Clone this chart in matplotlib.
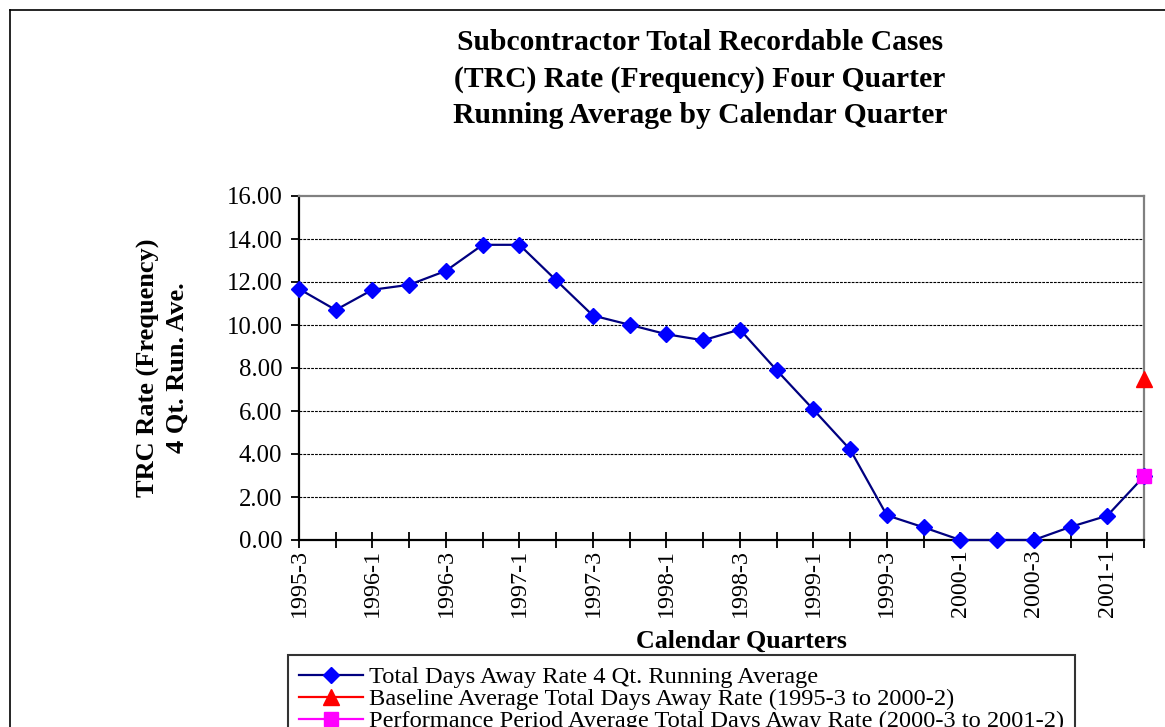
import matplotlib
matplotlib.use("Agg")
import matplotlib.pyplot as plt
from matplotlib.lines import Line2D

plt.rcParams['font.family'] = ['Liberation Serif', 'DejaVu Serif']

quarters = ["1995-3", "1995-4", "1996-1", "1996-2", "1996-3", "1996-4",
            "1997-1", "1997-2", "1997-3", "1997-4", "1998-1", "1998-2",
            "1998-3", "1998-4", "1999-1", "1999-2", "1999-3", "1999-4",
            "2000-1", "2000-2", "2000-3", "2000-4", "2001-1", "2001-2"]
running_avg = [11.68, 10.70, 11.64, 11.87, 12.52, 13.73, 13.73, 12.08,
               10.44, 10.01, 9.57, 9.29, 9.79, 7.90, 6.07, 4.21,
               1.15, 0.59, 0.0, 0.0, 0.0, 0.61, 1.13, 2.96]
baseline_quarter = "2001-2"
baseline_value = 7.47
performance_quarter = "2001-2"
performance_value = 3.0

W, H = 1165, 727
fig = plt.figure(figsize=(W / 100, H / 100), dpi=100)
ax = fig.add_axes([299 / W, 1 - 540 / H, (1144 - 299) / W, (540 - 196) / H])

x = list(range(len(quarters)))
ax.plot(x, running_avg, color="#000080", lw=1.6, marker="D", markersize=8.5,
        markerfacecolor="#0000FF", markeredgecolor="#0000FF", clip_on=False,
        zorder=5, label="Total Days Away Rate 4 Qt. Running Average")
ax.plot([quarters.index(baseline_quarter)], [baseline_value], color="#FF0000",
        lw=1.6, marker="^", markersize=11, clip_on=False, zorder=6,
        label="Baseline Average Total Days Away Rate (1995-3 to 2000-2)")
ax.plot([quarters.index(performance_quarter)], [performance_value], color="#FF00FF",
        lw=1.6, marker="s", markersize=10, clip_on=False, zorder=6,
        label="Performance Period Average Total Days Away Rate (2000-3 to 2001-2)")

ax.set_xlim(0, len(quarters) - 1)
ax.set_ylim(0, 16)
yt = [0, 2, 4, 6, 8, 10, 12, 14, 16]
ax.set_yticks(yt)
ax.set_yticklabels([f"{v:.2f}" for v in yt], fontsize=17.8)
ax.set_xticks(x)
ax.set_xticklabels([q if i % 2 == 0 else "" for i, q in enumerate(quarters)],
                   rotation=90, fontsize=17.3, va="top", ha="center")
ax.tick_params(axis="x", direction="inout", length=11, width=1.3, pad=1)
ax.tick_params(axis="y", direction="out", length=6, width=1.3, pad=6)

for yv in [2, 4, 6, 8, 10, 12, 14]:
    ax.axhline(yv, color="black", lw=0.8, ls=(0, (2.5, 1)), zorder=1)

for s in ("left", "bottom"):
    ax.spines[s].set_color("black")
    ax.spines[s].set_linewidth(1.6)
for s in ("top", "right"):
    ax.spines[s].set_color("#808080")
    ax.spines[s].set_linewidth(1.6)

fig.text(700 / W, 1 - 79 / H,
         "Subcontractor Total Recordable Cases\n(TRC) Rate (Frequency) Four Quarter\nRunning Average by Calendar Quarter",
         ha="center", va="center", fontsize=21.3, fontweight="bold", linespacing=1.45)

fig.text(163 / W, 1 - 368 / H, "TRC Rate (Frequency)\n4 Qt. Run. Ave.", rotation=90,
         ha="center", va="center", fontsize=19, fontweight="bold", multialignment="center",
         linespacing=1.3)
fig.text(741 / W, 1 - 641 / H, "Calendar Quarters", ha="center", va="center",
         fontsize=18.7, fontweight="bold")

leg = fig.legend(loc="upper left", bbox_to_anchor=(288 / W, 1 - 655 / H),
                 bbox_transform=fig.transFigure, fontsize=17.6, frameon=True,
                 fancybox=False, edgecolor="black", handlelength=2.6,
                 handletextpad=0.25, borderpad=0.45, labelspacing=0.0,
                 borderaxespad=0)
leg.get_frame().set_linewidth(1.5)

# outer chart border (cropped at right and bottom)
fig.add_artist(Line2D([10 / W, 1.0], [1 - 10 / H, 1 - 10 / H], color="black", lw=1.2,
                      transform=fig.transFigure))
fig.add_artist(Line2D([10 / W, 10 / W], [0, 1 - 10 / H], color="black", lw=1.2,
                      transform=fig.transFigure))

fig.savefig("out.png", dpi=100, facecolor="white")
